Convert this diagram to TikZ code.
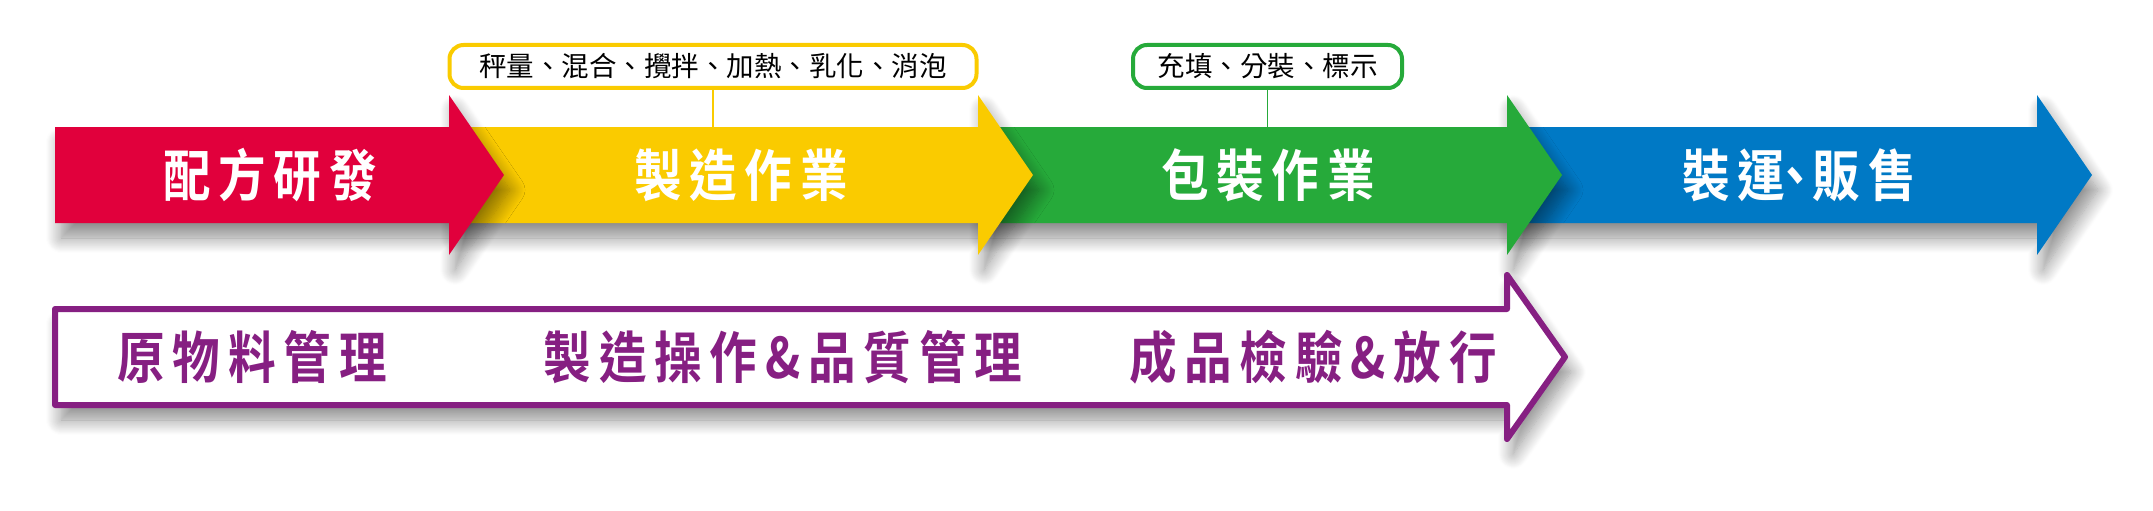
\documentclass[tikz,border=0pt]{standalone}
\usepackage{fontspec}
\usetikzlibrary{shadows.blur}
\newfontfamily\heibold{Noto Sans CJK TC Bold}[FakeStretch=0.85,LetterSpace=14]
\newfontfamily\hei{Noto Sans CJK TC}
\definecolor{formred}{HTML}{E1003C}
\definecolor{makeyellow}{HTML}{FACB00}
\definecolor{packgreen}{HTML}{26AA3A}
\definecolor{shipblue}{HTML}{0079C5}
\definecolor{qcpurple}{HTML}{861F82}

\begin{document}
\begin{tikzpicture}[x=1pt, y=-1pt,
    sh/.style={blur shadow={shadow xshift=6pt, shadow yshift=-15pt, shadow blur radius=15pt, shadow blur steps=16, shadow opacity=45}},
    big/.style={font=\heibold\fontsize{56}{56}\selectfont, inner sep=0pt},
    tag/.style={draw, line width=4pt, rounded corners=14pt, fill=white, minimum height=43pt, inner sep=0pt, font=\hei\fontsize{27.5}{27.5}\selectfont}]
            \useasboundingbox (0,0) rectangle (2153,511);
            %arrows drawn back to front, so every one casts its shadow on the next
            \fill[shipblue, sh] (1507,127) -- (2037,127) -- (2037,95) -- (2092,175) -- (2037,255) -- (2037,223) -- (1507,223) -- cycle;
            \fill[packgreen, sh] (978,127) -- (1507,127) -- (1507,95) -- (1562,175) -- (1507,255) -- (1507,223) -- (978,223) -- cycle;
            \fill[makeyellow, sh] (449,127) -- (978,127) -- (978,95) -- (1033,175) -- (978,255) -- (978,223) -- (449,223) -- cycle;
            \fill[formred, sh] (55,127) -- (449,127) -- (449,95) -- (504,175) -- (449,255) -- (449,223) -- (55,223) -- cycle;
            \node[big, white] (form) at (270,175) {配方研發};
            \node[big, white] (make) at (741,175) {製造作業};
            \node[big, white] (pack) at (1268,175) {包裝作業};
            \node[big, white] (ship) at (1799,175) {裝運\kern-14pt、\kern-6pt販售};

            \node[tag, draw=makeyellow, minimum width=527pt] (weigh) at (713,66.5) {秤量、混合、攪拌、加熱、乳化、消泡};
            \coordinate (weighend) at (713,127);
            \draw[makeyellow, line width=1.5pt] (weigh) -- (weighend);
            \node[tag, draw=packgreen, minimum width=269pt] (fill) at (1267.5,66.5) {充填、分裝、標示};
            \coordinate (fillend) at (1267.5,127);
            \draw[packgreen, line width=1.5pt] (fill) -- (fillend);

            \draw[qcpurple, line width=6pt, line join=round, fill=white, sh] (55,309) -- (1507,309) -- (1507,275) -- (1565,357) -- (1507,439) -- (1507,405) -- (55,405) -- cycle;
            \node[big, qcpurple] (raw) at (252,357) {原物料管理};
            \node[big, qcpurple] (ctrl) at (783,357) {製造操作\&品質管理};
            \node[big, qcpurple] (rel) at (1313,357) {成品檢驗\&放行};
        \end{tikzpicture}
\end{document}
